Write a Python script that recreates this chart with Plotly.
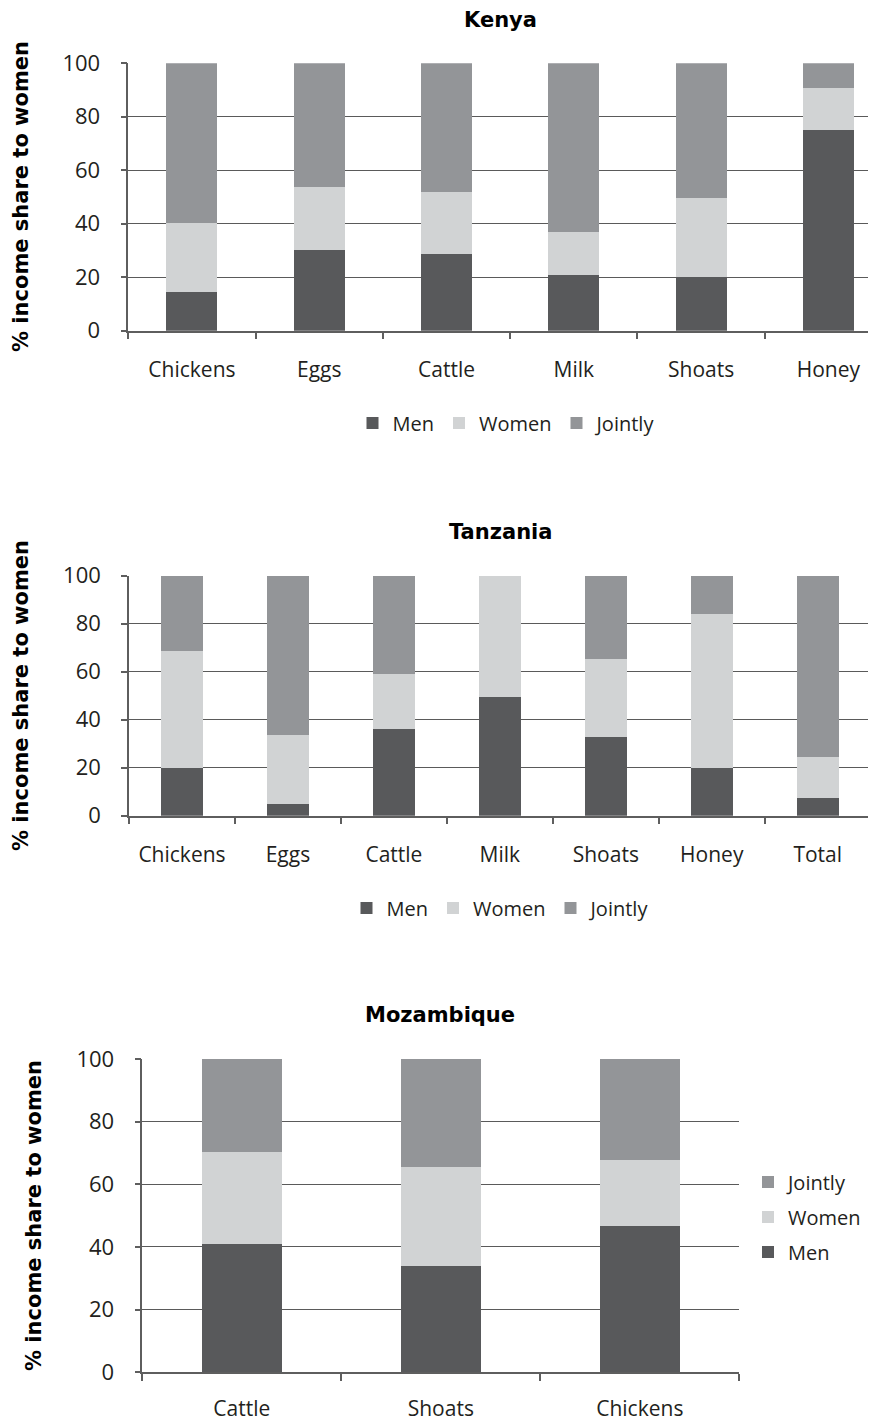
import plotly.graph_objects as go

# ---------------- data ----------------
kenya_cats = ["Chickens", "Eggs", "Cattle", "Milk", "Shoats", "Honey"]
kenya_men = [14.5, 30.0, 28.8, 20.9, 19.9, 74.9]
kenya_women = [25.8, 23.9, 23.0, 16.0, 29.8, 15.7]
kenya_jointly = [59.7, 46.1, 48.2, 63.1, 50.3, 9.4]

tanz_cats = ["Chickens", "Eggs", "Cattle", "Milk", "Shoats", "Honey", "Total"]
tanz_men = [19.9, 4.7, 36.0, 49.4, 32.7, 19.9, 7.4]
tanz_women = [48.7, 28.8, 23.0, 50.6, 32.5, 64.1, 17.1]
tanz_jointly = [31.4, 66.5, 41.0, 0.0, 34.8, 16.0, 75.5]

moz_cats = ["Cattle", "Shoats", "Chickens"]
moz_men = [41.0, 34.0, 46.8]
moz_women = [29.3, 31.6, 21.0]
moz_jointly = [29.7, 34.4, 32.2]

series_names = ["Men", "Women", "Jointly"]
y_ticks = [0, 20, 40, 60, 80, 100]
y_title = "% income share to women"
panel_titles = ["Kenya", "Tanzania", "Mozambique"]

# ---------------- style ----------------
OFF = 8  # page body margin offset
W, H = 876, 1420
colors = {"Men": "#58595b", "Women": "#d1d3d4", "Jointly": "#939598"}
XTICK_FONT = dict(family="Open Sans, Noto Sans, sans-serif", size=21, color="#231f20")
YTICK_FONT = dict(family="Open Sans, Noto Sans, sans-serif", size=22, color="#231f20")
BOLD_FONT = dict(family="DejaVu Sans, sans-serif", size=21, color="#000000")
LEG_FONT = dict(family="Open Sans, Noto Sans, sans-serif", size=20, color="#231f20")
GRID = "#5a5a5a"
AXIS = "#5e5e5e"


def px_x(p):
    return (p - OFF) / W


def px_y(p):
    return (H - (p - OFF)) / H


fig = go.Figure()

panels = [
    dict(cats=kenya_cats, vals=[kenya_men, kenya_women, kenya_jointly], xa="x", ya="y", legend="legend",
         ranks=[1, 2, 3]),
    dict(cats=tanz_cats, vals=[tanz_men, tanz_women, tanz_jointly], xa="x2", ya="y2", legend="legend2",
         ranks=[1, 2, 3]),
    dict(cats=moz_cats, vals=[moz_men, moz_women, moz_jointly], xa="x3", ya="y3", legend="legend3",
         ranks=[3, 2, 1]),
]

for pi, p in enumerate(panels):
    for name, vals, rk in zip(series_names, p["vals"], p["ranks"]):
        fig.add_trace(go.Bar(
            x=p["cats"], y=vals, name=name,
            marker=dict(color=colors[name], line=dict(width=0)),
            xaxis=p["xa"], yaxis=p["ya"], legend=p["legend"],
            legendgroup=f"{pi}-{name}", legendrank=rk, hoverinfo="x+y+name",
        ))

# axis geometry (page pixels)
geo = [
    dict(x0=128.3, x1=872.7, y0=330.7, y1=63.3, rng=[-0.5, 5.348], standoff=19),
    dict(x0=129.0, x1=870.7, y0=815.7, y1=575.7, rng=[-0.5, 6.5], standoff=19),
    dict(x0=142.3, x1=739.3, y0=1372.3, y1=1059.0, rng=[-0.5, 2.5], standoff=17),
]

layout_axes = {}
for i, g in enumerate(geo):
    sfx = "" if i == 0 else str(i + 1)
    layout_axes["xaxis" + sfx] = dict(
        domain=[px_x(g["x0"]), px_x(g["x1"])],
        range=g["rng"], type="category",
        anchor="y" + sfx,
        showline=True, linecolor=AXIS, linewidth=1.5,
        ticks="outside", tickson="boundaries", ticklen=7, tickcolor=AXIS, tickwidth=1.5,
        showgrid=False, zeroline=False, automargin=False,
        tickfont=XTICK_FONT, ticklabelstandoff=g["standoff"],
        fixedrange=True,
    )
    layout_axes["yaxis" + sfx] = dict(
        domain=[px_y(g["y0"]), px_y(g["y1"])],
        range=[0, 100], tickvals=y_ticks,
        anchor="x" + sfx,
        showline=True, linecolor=AXIS, linewidth=1.5,
        ticks="outside", ticklen=6, tickcolor=AXIS, tickwidth=1.5,
        showgrid=True, gridcolor=GRID, gridwidth=1,
        zeroline=False, automargin=False,
        tickfont=YTICK_FONT, ticklabelstandoff=16,
        fixedrange=True,
    )

annotations = []
# panel titles
for t, (cx, cy) in zip(panel_titles, [(500, 20), (500, 532), (440, 1015)]):
    annotations.append(dict(
        text=f"<b>{t}</b>", x=px_x(cx), y=px_y(cy), xref="paper", yref="paper",
        xanchor="center", yanchor="middle", showarrow=False, font=BOLD_FONT,
    ))
# y axis titles
for (cx, cy) in [(21, 197), (21, 696), (34, 1216)]:
    annotations.append(dict(
        text=f"<b>{y_title}</b>", x=px_x(cx), y=px_y(cy), xref="paper", yref="paper",
        xanchor="center", yanchor="middle", textangle=-90, showarrow=False, font=BOLD_FONT,
    ))

fig.update_layout(
    width=W, height=H,
    margin=dict(l=0, r=0, t=0, b=0, pad=0, autoexpand=False),
    paper_bgcolor="white", plot_bgcolor="white",
    barmode="stack", bargap=0.6,
    showlegend=True,
    legend=dict(orientation="h", x=px_x(507), y=px_y(423), xanchor="center", yanchor="middle",
                font=LEG_FONT, traceorder="normal", itemwidth=30, bgcolor="rgba(0,0,0,0)"),
    legend2=dict(orientation="h", x=px_x(501), y=px_y(908), xanchor="center", yanchor="middle",
                 font=LEG_FONT, traceorder="normal", itemwidth=30, bgcolor="rgba(0,0,0,0)"),
    legend3=dict(orientation="v", x=px_x(748), y=px_y(1217), xanchor="left", yanchor="middle",
                 font=LEG_FONT, traceorder="grouped", itemwidth=30, tracegroupgap=6,
                 bgcolor="rgba(0,0,0,0)"),
    annotations=annotations,
    **layout_axes,
)

fig.write_html("out.html")
